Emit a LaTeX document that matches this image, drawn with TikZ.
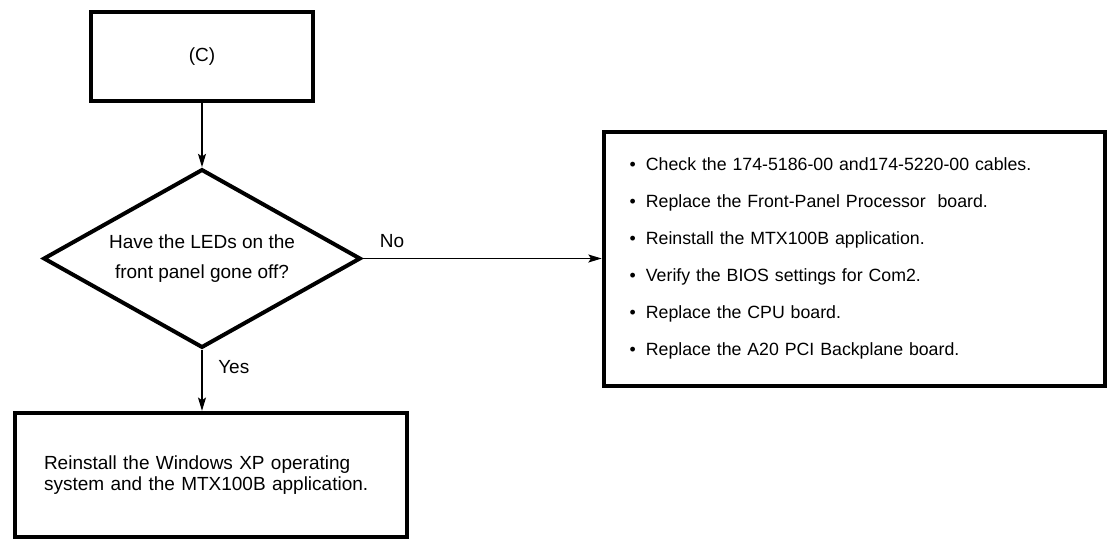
\documentclass[tikz,border=0pt]{standalone}
\usepackage{fontspec}
\setmainfont{Liberation Sans}
\usepackage{tikz}
\usetikzlibrary{arrows.meta, positioning, shapes.geometric}
\newcommand{\itm}{\textbullet\hspace{7.5pt}}

\begin{document}
\begin{tikzpicture}[
        node distance=0.42cm,
        box/.style={rectangle, draw, line width=3pt, inner sep=0pt,
                    font=\fontsize{14.25pt}{15.75pt}\selectfont},
        decision/.style={diamond, draw, line width=3pt, aspect=1.8, inner sep=0pt,
                         minimum width=238pt, minimum height=134pt, align=center,
                         font=\fontsize{14.25pt}{22.5pt}\selectfont},
        arr/.style={-{Stealth[length=10pt, width=6pt, inset=2pt]}, line width=1pt},
        lbl/.style={inner sep=0pt, font=\fontsize{14.25pt}{17pt}\selectfont}
    ]
        \useasboundingbox (0,0) rectangle (832.5pt,-406.5pt);
        \node[box, minimum width=166.5pt, minimum height=66.75pt] (start) at (151.5pt,-42.5pt) {(C)};
        \node[decision, below=48pt of start] (q) {Have the LEDs on the\\front panel gone off?};
        \node[box, below=45.75pt of q, xshift=6.75pt, minimum width=294pt, minimum height=93pt,
              text width=250.5pt, align=left] (os)
            {Reinstall the Windows XP operating\\system and the MTX100B application.};
        \node[box, right=179.25pt of q, minimum width=375.75pt, minimum height=190.5pt,
              text width=336.75pt, align=left,
              font=\fontsize{13.3pt}{27.75pt}\selectfont] (fix)
            {\itm Check the 174-5186-00 and174-5220-00 cables.\\
             \itm Replace the Front-Panel Processor~ board.\\
             \itm Reinstall the MTX100B application.\\
             \itm Verify the BIOS settings for Com2.\\
             \itm Replace the CPU board.\\
             \itm Replace the A20 PCI Backplane board.};
        \node[lbl, above right=8pt and 12.75pt of q.east] (no) {No};
        \node[lbl, below right=8pt and 12pt of q.south] (yes) {Yes};
        \draw[arr] (start) -- (q);
        \draw[arr] (q) -- (fix);
        \draw[arr] (q.south) -- (q.south |- os.north);
    \end{tikzpicture}
\end{document}
